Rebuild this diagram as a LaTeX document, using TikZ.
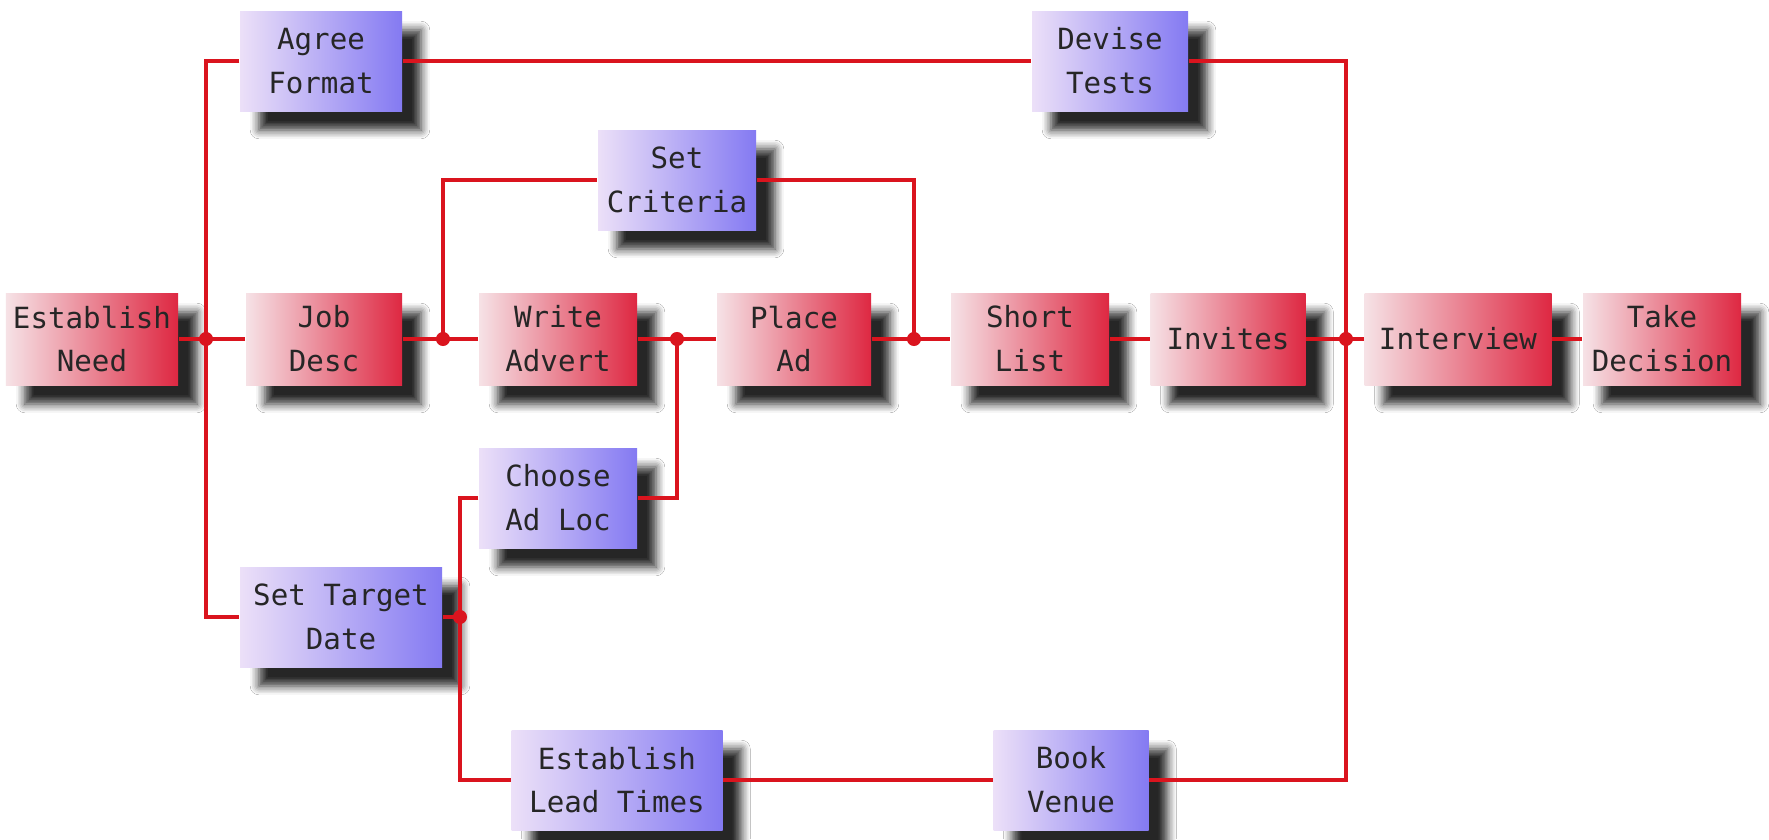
\documentclass[tikz,border=0pt]{standalone}
\usepackage{fontspec}
\setmonofont{DejaVu Sans Mono}
\usetikzlibrary{shadows.blur}

% Couleurs des étapes
\definecolor{rougeclair}{RGB}{246,226,230}
\definecolor{rougefonce}{RGB}{222,40,66}
\definecolor{bleuclair}{RGB}{236,224,248}
\definecolor{bleufonce}{RGB}{132,122,242}
\definecolor{trait}{RGB}{218,20,30}

\tikzset{
    etape/.style={rectangle, inner sep=2pt, align=center, text=black!85,
        font=\ttfamily\fontsize{8.3}{12.5}\selectfont,
        minimum height=0.92cm,
        blur shadow={shadow xshift=0.19cm, shadow yshift=-0.19cm,
            shadow opacity=85, shadow blur radius=2.5pt,
            shadow blur steps=6, shadow blur extra rounding=0pt}},
    etaperouge/.style={etape, left color=rougeclair, right color=rougefonce},
    etapebleue/.style={etape, left color=bleuclair, right color=bleufonce,
        minimum height=1.0cm},
    lien/.style={draw=trait, line width=1.3pt}
}

\begin{document}
\begin{tikzpicture}

    % Cadre de l'image
    \useasboundingbox[fill=white] (0,0) rectangle (17.69,-8.39);

    % Hauteur de la ligne principale
    \def\yr{-3.39}

    % ==============================================
    % 1. ÉTAPES DE LA LIGNE PRINCIPALE
    % ==============================================
    \foreach \nom/\x/\lg/\txt in {need/0.92/1.66/{Establish\\Need},
        job/3.24/1.56/{Job\\Desc}, write/5.58/1.58/{Write\\Advert},
        place/7.94/1.54/{Place\\Ad}, short/10.30/1.58/{Short\\List},
        invites/12.28/1.55/{Invites}, interview/14.58/1.87/{Interview},
        decision/16.62/1.58/{Take\\Decision}} {
        \node[etaperouge, minimum width=\lg cm] (\nom) at (\x, \yr) {\txt};
    }

    % ==============================================
    % 2. ÉTAPES ANNEXES
    % ==============================================
    \foreach \nom/\x/\y/\lg/\txt in {agree/3.21/-0.61/1.62/{Agree\\Format},
        devise/11.10/-0.61/1.56/{Devise\\Tests},
        criteria/6.77/-1.80/1.58/{Set\\Criteria},
        choose/5.58/-4.98/1.58/{Choose\\Ad Loc},
        target/3.41/-6.17/2.02/{Set Target\\Date},
        lead/6.17/-7.80/2.11/{Establish\\Lead Times},
        venue/10.71/-7.80/1.55/{Book\\Venue}} {
        \node[etapebleue, minimum width=\lg cm] (\nom) at (\x, \y) {\txt};
    }

    % Points de jonction
    \coordinate (j1) at (2.06, \yr);
    \coordinate (j2) at (4.43, \yr);
    \coordinate (j3) at (6.77, \yr);
    \coordinate (j4) at (9.14, \yr);
    \coordinate (j5) at (13.46, \yr);
    \coordinate (j6) at (4.60, -6.17);

    % ==============================================
    % 3. LIENS
    % ==============================================
    \draw[lien] (need) -- (j1) -- (job);
    \draw[lien] (agree.west) -| (j1) |- (target.west);
    \draw[lien] (agree) -- (devise);
    \draw[lien] (devise.east) -| (j5) |- (venue.east);

    \draw[lien] (job) -- (j2) -- (write);
    \draw[lien] (j2) |- (criteria.west);
    \draw[lien] (criteria.east) -| (j4);

    \draw[lien] (write) -- (j3) -- (place);
    \draw[lien] (j3) |- (choose.east);

    \draw[lien] (place) -- (j4) -- (short);
    \draw[lien] (short) -- (invites);
    \draw[lien] (invites) -- (j5) -- (interview);
    \draw[lien] (interview) -- (decision);

    \draw[lien] (target) -- (j6);
    \draw[lien] (choose.west) -| (j6) |- (lead.west);
    \draw[lien] (lead) -- (venue);

    \foreach \j in {j1,j2,j3,j4,j5,j6}
        \fill[trait] (\j) circle (2pt);

\end{tikzpicture}
\end{document}
